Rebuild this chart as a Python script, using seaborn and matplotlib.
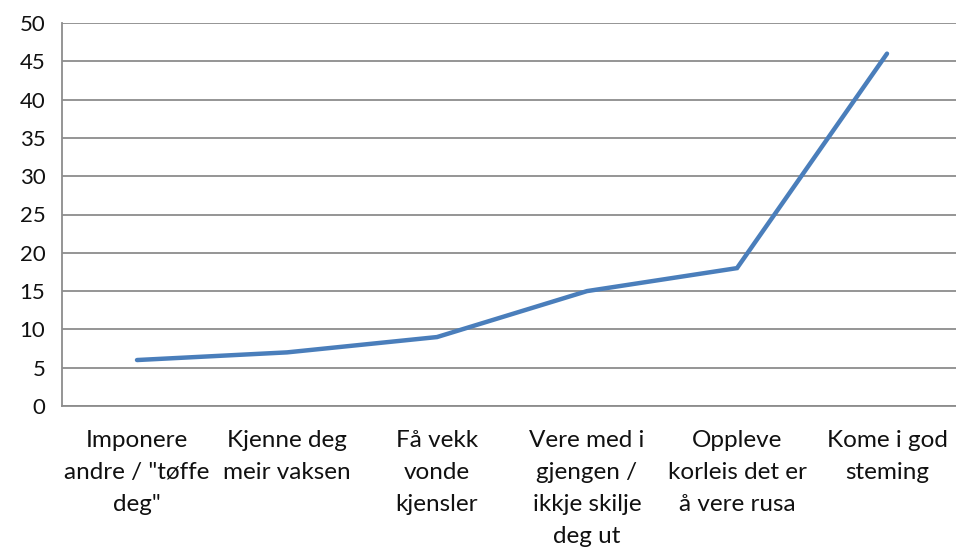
import matplotlib
matplotlib.use("Agg")
import matplotlib.pyplot as plt
import seaborn as sns
import pandas as pd
import numpy as np

categories = [
    "Imponere\nandre / \"tøffe\ndeg\"",
    "Kjenne deg\nmeir vaksen",
    "Få vekk\nvonde\nkjensler",
    "Vere med i\ngjengen /\nikkje skilje\ndeg ut",
    "Oppleve\nkorleis det er\nå vere rusa",
    "Kome i god\nsteming",
]
values = [6, 7, 9, 15, 18, 46]
y_ticks = [0, 5, 10, 15, 20, 25, 30, 35, 40, 45, 50]

sns.set_theme(style="white")
plt.rcParams['font.family'] = ['Lato', 'DejaVu Sans']

fig = plt.figure(figsize=(9.56, 5.48), dpi=100)
ax = fig.add_axes([62/956, 1-406/548, 900/956, (406-23)/548])

df = pd.DataFrame({"x": np.arange(len(values)), "y": values})
sns.lineplot(data=df, x="x", y="y", ax=ax, color="#4A7EBB", linewidth=3.2,
             solid_capstyle="round", solid_joinstyle="miter")

ax.set_xlim(-0.5, len(values) - 0.5)
ax.set_ylim(0, 50)
ax.set_yticks(y_ticks)
ax.set_yticklabels([str(v) for v in y_ticks], fontsize=16)
ax.set_xticks(range(len(categories)))
ax.set_xticklabels(categories, fontsize=17.5, linespacing=1.66, va="top")
ax.set_xticks(np.arange(-0.5, len(categories), 1.0), minor=True)
ax.tick_params(axis="x", which="major", length=0, pad=17, colors="#111111")
ax.tick_params(axis="x", which="minor", length=6, width=1.2, color="#8C8C8C", direction="out")
ax.tick_params(axis="y", length=6, width=1.2, color="#8C8C8C", direction="out", pad=6, colors="#111111")
ax.tick_params(axis="y", color="#8C8C8C")
ax.set_xlabel("")
ax.set_ylabel("")
ax.yaxis.grid(True, color="#8C8C8C", linewidth=1.3)
ax.set_axisbelow(True)
for s in ["top", "right"]:
    ax.spines[s].set_visible(False)
for s in ["left", "bottom"]:
    ax.spines[s].set_color("#8C8C8C")
    ax.spines[s].set_linewidth(1.3)

fig.savefig("out.png", dpi=100)
